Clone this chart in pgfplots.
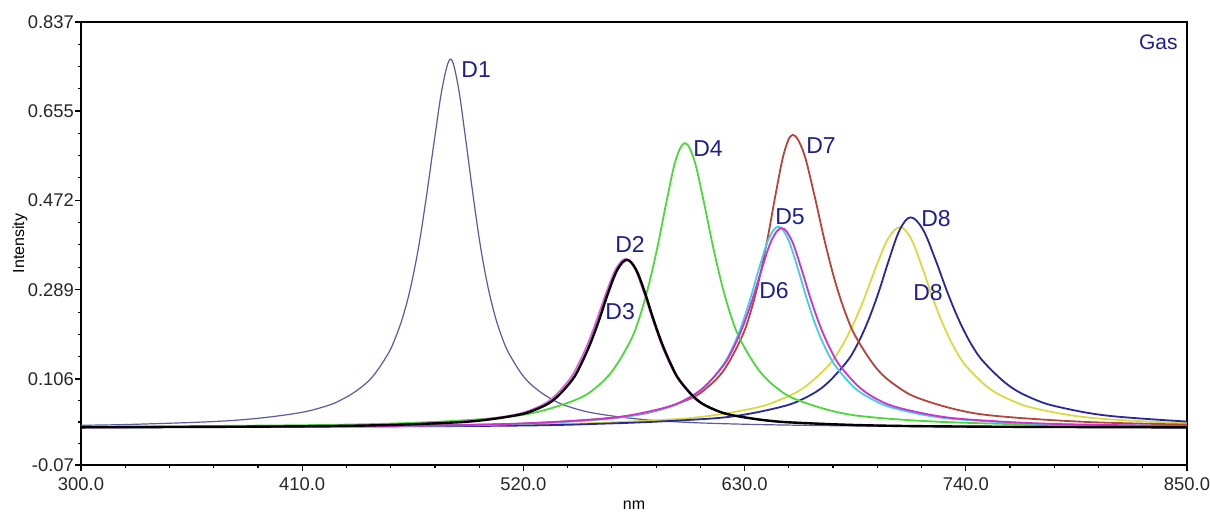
\documentclass[border=0pt]{standalone}
\usepackage{fontspec}
\setmainfont{Liberation Sans}
\usepackage{pgfplots}
\pgfplotsset{compat=1.18}

\definecolor{cDone}{HTML}{5A5AA0}
\definecolor{cDtwo}{HTML}{E060E0}
\definecolor{cDfour}{HTML}{4CD83A}
\definecolor{cDfive}{HTML}{40D0E0}
\definecolor{cDsix}{HTML}{D030D0}
\definecolor{cDseven}{HTML}{B5443A}
\definecolor{cDeightb}{HTML}{28289A}
\definecolor{cDeighty}{HTML}{DADA40}
\definecolor{clbl}{HTML}{1E1E8C}
\tikzset{lbl/.style={text=clbl, font=\fontsize{11.5}{13}\selectfont, inner sep=0pt, anchor=west}}

\begin{document}
\begin{tikzpicture}
\begin{axis}[
    scale only axis,
    width=553pt, height=221.5pt,
    xmin=300, xmax=850, ymin=-0.07, ymax=0.837,
    axis line style={black, line width=0.6pt},
    tick align=outside, xtick pos=bottom, ytick pos=left,
    xtick={300,410,520,630,740,850},
    xticklabels={300.0,410.0,520.0,630.0,740.0,850.0},
    minor xtick={322,344,366,388,432,454,476,498,542,564,586,608,652,674,696,718,762,784,806,828},
    ytick={-0.07,0.106,0.289,0.472,0.655,0.837},
    yticklabels={-0.07,0.106,0.289,0.472,0.655,0.837},
    minor ytick={-0.026,0.018,0.062,0.152,0.197,0.243,0.335,0.381,0.426,0.518,0.564,0.609,0.7005,0.746,0.7915},
    major tick length=3pt, minor tick length=1.6pt,
    tick style={black, line width=0.6pt},
    ticklabel style={font=\fontsize{9.2}{10}\selectfont, text=black!85},
    yticklabel style={xshift=3pt},
    xlabel={nm}, ylabel={Intensity},
    label style={font=\fontsize{8}{9}\selectfont},
    xlabel style={at={(axis description cs:0.5,-0.0903)}, anchor=center},
    ylabel style={at={(axis description cs:-0.0552,0.5)}, anchor=center},
    every axis plot post/.append style={smooth, tension=0.6},
]
\coordinate (bl) at (rel axis cs:0,0);
\coordinate (tr) at (rel axis cs:1,1);

% D1
\addplot[cDone, line width=0.6pt] coordinates {
(300,0.0114) (327.8,0.0135) (374.6,0.021) (405.8,0.035) (421.4,0.050) (429.2,0.063) (437.0,0.082)
(444.8,0.110) (452.6,0.157) (456.5,0.192) (460.4,0.238) (464.3,0.301) (468.2,0.384) (472.1,0.489)
(476.0,0.603) (479.9,0.708) (483.8,0.761) (487.45,0.708) (491.1,0.603) (494.75,0.489)
(498.4,0.384) (502.05,0.301) (505.7,0.238) (509.3,0.192) (513.0,0.157) (520.3,0.110) (527.6,0.082)
(534.9,0.063) (542.2,0.050) (556.8,0.035) (586.0,0.021) (629.8,0.0135) (702.8,0.0093) (775.8,0.0079) (850,0.0072)
};
% D8 yellow
\addplot[cDeighty, line width=0.9pt] coordinates {
(300,0.0074) (467.3,0.010) (539.3,0.014) (587.3,0.022) (611.3,0.030) (635.3,0.047)
(647.3,0.063) (659.3,0.088) (671.3,0.132) (677.3,0.166) (683.3,0.212) (689.3,0.269)
(695.3,0.335) (701.3,0.393) (707.3,0.417) (712.8,0.393) (718.3,0.335) (723.8,0.269)
(729.3,0.212) (734.8,0.166) (740.3,0.132) (751.3,0.088) (762.3,0.063) (773.3,0.047)
(795.3,0.030) (817.3,0.022) (850,0.0155)
};
% D8 blue
\addplot[cDeightb, line width=0.9pt] coordinates {
(300,0.0072) (497.6,0.010) (562.1,0.015) (605.1,0.023) (626.6,0.031) (648.1,0.049)
(658.85,0.065) (669.6,0.092) (680.35,0.139) (685.7,0.174) (691.1,0.222) (696.5,0.282)
(701.85,0.351) (707.2,0.412) (712.6,0.437) (718.7,0.412) (724.85,0.351) (731.0,0.282)
(737.1,0.222) (743.2,0.174) (749.35,0.139) (761.6,0.092) (773.85,0.065) (786.1,0.049)
(810.6,0.031) (850,0.019)
};
% D7
\addplot[cDseven, line width=0.9pt] coordinates {
(300,0.0074) (484,0.012) (535,0.018) (569,0.029) (586,0.041) (603,0.066)
(611.5,0.089) (620,0.126) (628.5,0.191) (632.75,0.240) (637,0.306) (641.25,0.390)
(645.5,0.486) (649.75,0.571) (654,0.606) (659.25,0.571) (664.5,0.486) (669.75,0.390)
(675,0.306) (680.25,0.240) (685.5,0.191) (696,0.126) (706.5,0.089) (717,0.066)
(738,0.041) (759,0.029) (801,0.018) (850,0.0128)
};
% D4
\addplot[cDfour, line width=0.9pt] coordinates {
(300,0.0081) (420.3,0.012) (474.3,0.018) (510.3,0.028) (528.3,0.040) (546.3,0.064)
(555.3,0.086) (564.3,0.123) (573.3,0.185) (577.8,0.233) (582.3,0.298) (586.8,0.379)
(591.3,0.472) (595.8,0.555) (600.3,0.589) (604.9,0.555) (609.55,0.472) (614.2,0.379)
(618.8,0.298) (623.4,0.233) (628.05,0.185) (637.3,0.123) (646.55,0.086) (655.8,0.064)
(674.3,0.040) (692.8,0.028) (729.8,0.018) (785.3,0.012) (850,0.0092)
};
% D5
\addplot[cDfive, line width=0.9pt] coordinates {
(300,0.0072) (461.7,0.010) (517.2,0.014) (554.2,0.022) (572.7,0.030) (591.2,0.047)
(600.45,0.063) (609.7,0.088) (618.95,0.133) (623.6,0.167) (628.2,0.212) (632.8,0.270)
(637.45,0.336) (642.1,0.394) (646.7,0.418) (651.45,0.394) (656.2,0.336) (660.95,0.270)
(665.7,0.212) (670.45,0.167) (675.2,0.133) (684.7,0.088) (694.2,0.063) (703.7,0.047)
(722.7,0.030) (741.7,0.022) (779.7,0.014) (850,0.0096)
};
% D6
\addplot[cDsix, line width=0.9pt] coordinates {
(300,0.0073) (453.4,0.010) (511.9,0.014) (550.9,0.022) (570.4,0.030) (589.9,0.047)
(599.65,0.062) (609.4,0.088) (619.15,0.132) (624.0,0.166) (628.9,0.211) (633.8,0.268)
(638.65,0.333) (643.5,0.391) (648.4,0.415) (653.3,0.391) (658.15,0.333) (663.0,0.268)
(667.9,0.211) (672.8,0.166) (677.65,0.132) (687.4,0.088) (697.15,0.062) (706.9,0.047)
(726.4,0.030) (745.9,0.022) (784.9,0.014) (850,0.0098)
};
% D2
\addplot[cDtwo, line width=0.9pt] coordinates {
(300,0.0073) (382.9,0.0086) (439.3,0.011) (476.9,0.016) (495.7,0.021) (514.5,0.032)
(523.9,0.043) (533.3,0.063) (542.7,0.104) (547.4,0.137) (552.1,0.179) (556.8,0.231)
(561.5,0.286) (566.2,0.333) (570.9,0.352) (575.3,0.333) (579.7,0.286) (584.1,0.231)
(588.5,0.179) (592.9,0.137) (597.3,0.104) (606.1,0.063) (614.9,0.043) (623.7,0.032)
(641.3,0.021) (658.9,0.016) (694.1,0.011) (746.9,0.0086) (850,0.007)
};
% D3
\addplot[black, line width=1.2pt] coordinates {
(300,0.0072) (388.5,0.0086) (443.4,0.011) (480.0,0.016) (498.3,0.021) (516.6,0.032)
(525.75,0.043) (534.9,0.063) (544.05,0.103) (548.6,0.136) (553.2,0.178) (557.8,0.229)
(562.35,0.285) (566.9,0.331) (571.5,0.350) (575.9,0.331) (580.25,0.285) (584.6,0.229)
(589.0,0.178) (593.4,0.136) (597.75,0.103) (606.5,0.063) (615.25,0.043) (624.0,0.032)
(641.5,0.021) (659.0,0.016) (694.0,0.011) (746.5,0.0086) (850,0.007)
};

\node[lbl] at (axis cs:489,0.739) {D1};
\node[lbl] at (axis cs:565.5,0.382) {D2};
\node[lbl] at (axis cs:560.6,0.245) {D3};
\node[lbl] at (axis cs:604.3,0.577) {D4};
\node[lbl] at (axis cs:645.1,0.438) {D5};
\node[lbl] at (axis cs:637.1,0.288) {D6};
\node[lbl] at (axis cs:660.5,0.585) {D7};
\node[lbl] at (axis cs:717.7,0.434) {D8};
\node[lbl] at (axis cs:713.7,0.284) {D8};
\node[text=clbl, font=\fontsize{10.5}{12}\selectfont, inner sep=0pt, anchor=east]
    at ([shift={(-4.5pt,-10pt)}]rel axis cs:1,1) {Gas};
\end{axis}
\pgfresetboundingbox
\path[use as bounding box] ([shift={(-40.5pt,-24pt)}]bl) rectangle ([shift={(11.5pt,11pt)}]tr);
\end{tikzpicture}
\end{document}
